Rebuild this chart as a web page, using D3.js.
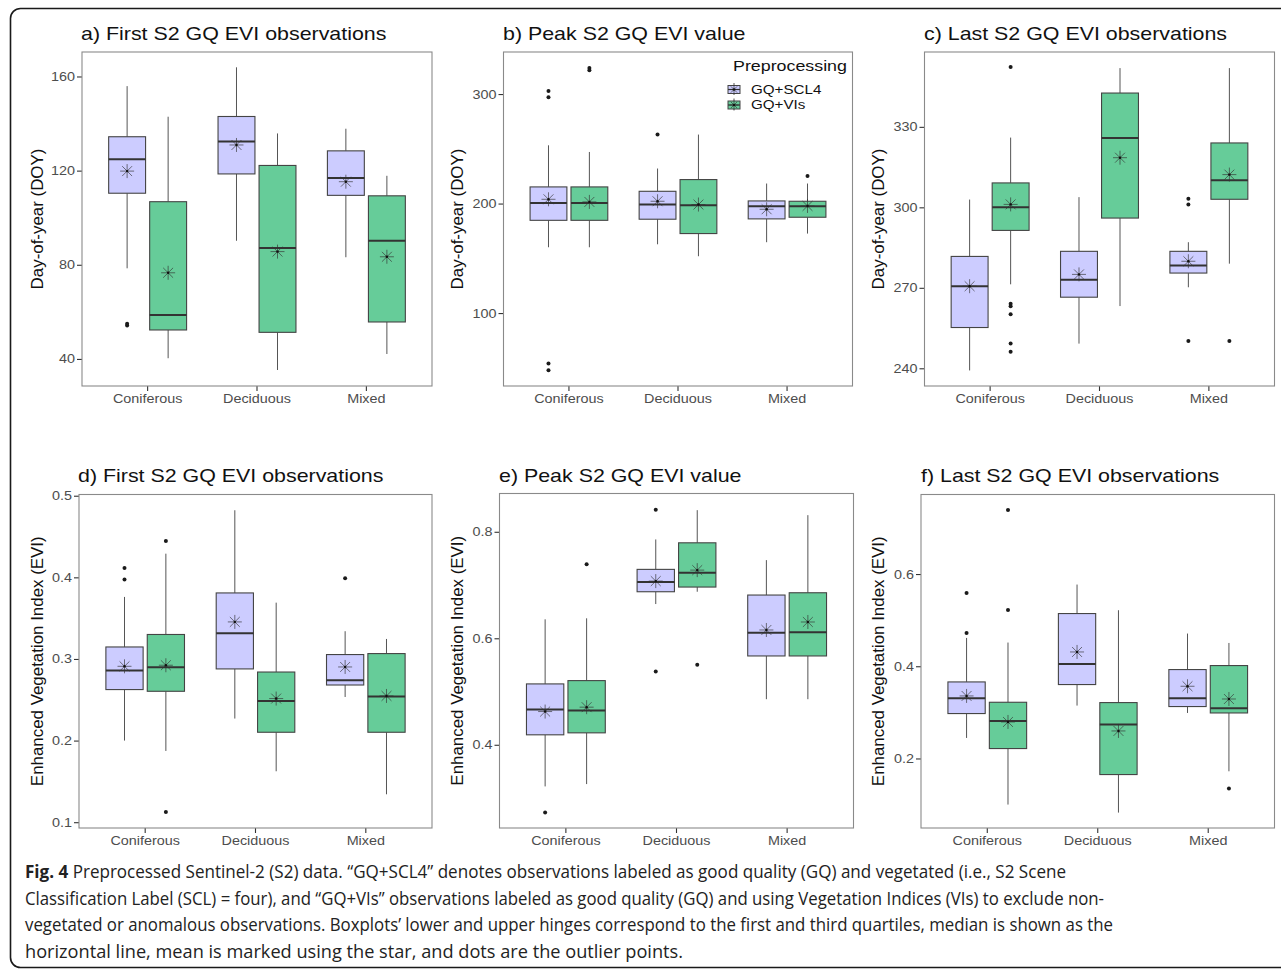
<!DOCTYPE html>
<html><head><meta charset="utf-8">
<script src="https://cdn.jsdelivr.net/npm/d3@7"></script>
<style>body{margin:0;background:#fff}svg{display:block}</style>
</head><body>
<svg id="c" width="1281" height="969"></svg>
<script>
// ---------- DATA ----------
const categories = ["Coniferous", "Deciduous", "Mixed"];
const groups = ["GQ+SCL4", "GQ+VIs"];

const firstDoySCL4 = [
  {lo:78.5, q1:110.4, med:124.8, q3:134.4, hi:155.9, mean:119.8, out:[54.2,55.0]},
  {lo:90.2, q1:118.6, med:132.4, q3:143.0, hi:163.9, mean:130.9, out:[]},
  {lo:83.2, q1:109.5, med:116.9, q3:128.4, hi:137.8, mean:115.3, out:[]}];
const firstDoyVIs = [
  {lo:40.3, q1:52.3, med:58.7, q3:106.8, hi:142.9, mean:76.6, out:[]},
  {lo:35.3, q1:51.3, med:87.1, q3:122.2, hi:135.8, mean:85.6, out:[]},
  {lo:42.1, q1:55.7, med:90.2, q3:109.3, hi:117.8, mean:83.4, out:[]}];

const peakDoySCL4 = [
  {lo:160.1, q1:184.7, med:200.5, q3:215.2, hi:253.2, mean:203.9, out:[302.8,297.0,53.9,47.8]},
  {lo:162.8, q1:185.7, med:199.1, q3:211.2, hi:232.0, mean:202.1, out:[263.0]},
  {lo:164.7, q1:186.0, med:197.5, q3:202.4, hi:218.3, mean:194.8, out:[]}];
const peakDoyVIs = [
  {lo:160.1, q1:184.7, med:200.5, q3:215.2, hi:247.1, mean:201.5, out:[323.8,321.7]},
  {lo:151.9, q1:172.6, med:198.4, q3:221.9, hi:263.0, mean:199.1, out:[]},
  {lo:172.6, q1:187.5, med:197.5, q3:202.1, hi:218.3, mean:197.8, out:[225.2]}];

const lastDoySCL4 = [
  {lo:239.2, q1:255.2, med:270.6, q3:281.7, hi:302.9, mean:270.6, out:[]},
  {lo:249.2, q1:266.5, med:273.0, q3:283.6, hi:303.8, mean:275.0, out:[]},
  {lo:270.2, q1:275.5, med:278.3, q3:283.6, hi:287.0, mean:279.9, out:[303.2,301.1,250.2]}];
const lastDoyVIs = [
  {lo:271.3, q1:291.4, med:300.0, q3:309.1, hi:326.0, mean:301.1, out:[352.3,264.1,263.1,260.1,249.2,246.2]},
  {lo:263.2, q1:296.0, med:325.8, q3:342.6, hi:351.9, mean:318.5, out:[]},
  {lo:279.0, q1:303.0, med:310.1, q3:324.0, hi:351.9, mean:312.2, out:[250.2]}];

const firstEviSCL4 = [
  {lo:0.200, q1:0.2625, med:0.2858, q3:0.3147, hi:0.376, mean:0.291, out:[0.4115,0.3973]},
  {lo:0.227, q1:0.2878, med:0.3315, q3:0.3809, hi:0.4822, mean:0.3454, out:[]},
  {lo:0.2534, q1:0.2681, med:0.2739, q3:0.3054, hi:0.334, mean:0.2902, out:[0.3989]}];
const firstEviVIs = [
  {lo:0.1873, q1:0.2604, med:0.2898, q3:0.330, hi:0.429, mean:0.2923, out:[0.4446,0.1125]},
  {lo:0.1624, q1:0.2102, med:0.2485, q3:0.284, hi:0.369, mean:0.2515, out:[]},
  {lo:0.1342, q1:0.2102, med:0.2539, q3:0.3066, hi:0.3245, mean:0.2547, out:[]}];

const peakEviSCL4 = [
  {lo:0.3218, q1:0.4187, med:0.4661, q3:0.5143, hi:0.6356, mean:0.4624, out:[0.273]},
  {lo:0.6643, q1:0.6874, med:0.7056, q3:0.7294, hi:0.7856, mean:0.7074, out:[0.8412,0.5374]},
  {lo:0.4856, q1:0.5668, med:0.6105, q3:0.6812, hi:0.7468, mean:0.6156, out:[]}];
const peakEviVIs = [
  {lo:0.3262, q1:0.4224, med:0.4643, q3:0.5205, hi:0.6375, mean:0.4706, out:[0.7388]},
  {lo:0.6874, q1:0.6962, med:0.7230, q3:0.7793, hi:0.8406, mean:0.728, out:[0.5505]},
  {lo:0.4856, q1:0.5668, med:0.6112, q3:0.6855, hi:0.8312, mean:0.6306, out:[]}];

const lastEviSCL4 = [
  {lo:0.2445, q1:0.2974, med:0.3306, q3:0.366, hi:0.4614, mean:0.3356, out:[0.559,0.4722]},
  {lo:0.3147, q1:0.3603, med:0.405, q3:0.5143, hi:0.5772, mean:0.431, out:[]},
  {lo:0.2987, q1:0.3126, med:0.3306, q3:0.3928, hi:0.4709, mean:0.3566, out:[]}];
const lastEviVIs = [
  {lo:0.100, q1:0.2215, med:0.2813, q3:0.3219, hi:0.4514, mean:0.2792, out:[0.739,0.5221]},
  {lo:0.0826, q1:0.1651, med:0.2735, q3:0.3212, hi:0.5215, mean:0.2597, out:[]},
  {lo:0.1722, q1:0.2987, med:0.3089, q3:0.4015, hi:0.4505, mean:0.329, out:[0.1347]}];

const ticksDoyFirst = [40, 80, 120, 160];
const ticksDoyPeak = [100, 200, 300];
const ticksDoyLast = [240, 270, 300, 330];
const ticksEviFirst = [0.1, 0.2, 0.3, 0.4, 0.5];
const ticksEviPeak = [0.4, 0.6, 0.8];
const ticksEviLast = [0.2, 0.4, 0.6];

const titles = ["a) First S2 GQ EVI observations", "b) Peak S2 GQ EVI value", "c) Last S2 GQ EVI observations",
                "d) First S2 GQ EVI observations", "e) Peak S2 GQ EVI value", "f) Last S2 GQ EVI observations"];
const yTitles = ["Day-of-year (DOY)", "Enhanced Vegetation Index (EVI)"];
const legendTitle = "Preprocessing";
const captionBold = "Fig. 4";
const captionLines = [
  " Preprocessed Sentinel-2 (S2) data. \u201cGQ+SCL4\u201d denotes observations labeled as good quality (GQ) and vegetated (i.e., S2 Scene",
  "Classification Label (SCL) = four), and \u201cGQ+VIs\u201d observations labeled as good quality (GQ) and using Vegetation Indices (VIs) to exclude non-",
  "vegetated or anomalous observations. Boxplots\u2019 lower and upper hinges correspond to the first and third quartiles, median is shown as the",
  "horizontal line, mean is marked using the star, and dots are the outlier points."];

// ---------- LAYOUT ----------
const panels = [
  {title:titles[0], yt:yTitles[0], s:[firstDoySCL4, firstDoyVIs], dom:[28.5,170.4], ticks:ticksDoyFirst, fmt:d3.format("d"), x0:82, x1:432, y0:52, y1:386, tx:81, ty:40, ytx:37},
  {title:titles[1], yt:yTitles[0], s:[peakDoySCL4, peakDoyVIs], dom:[33.4,338.4], ticks:ticksDoyPeak, fmt:d3.format("d"), x0:503.5, x1:852.5, y0:52, y1:386, tx:503, ty:40, ytx:457, legend:true},
  {title:titles[2], yt:yTitles[0], s:[lastDoySCL4, lastDoyVIs], dom:[233.4,357.9], ticks:ticksDoyLast, fmt:d3.format("d"), x0:924.5, x1:1274.5, y0:52, y1:386, tx:924, ty:40, ytx:878},
  {title:titles[3], yt:yTitles[1], s:[firstEviSCL4, firstEviVIs], dom:[0.0929,0.5015], ticks:ticksEviFirst, fmt:d3.format(".1f"), x0:79, x1:432, y0:494.5, y1:828, tx:78, ty:482, ytx:37},
  {title:titles[4], yt:yTitles[1], s:[peakEviSCL4, peakEviVIs], dom:[0.2437,0.8719], ticks:ticksEviPeak, fmt:d3.format(".1f"), x0:499.5, x1:853.5, y0:493.5, y1:828, tx:499, ty:482, ytx:457},
  {title:titles[5], yt:yTitles[1], s:[lastEviSCL4, lastEviVIs], dom:[0.0492,0.7725], ticks:ticksEviLast, fmt:d3.format(".1f"), x0:921, x1:1274.5, y0:494.5, y1:828, tx:921, ty:482, ytx:878}
];
const fills = ["#ccccff", "#66cc99"];
const SX = 1.15; // horizontal stretch of the original raster
const FF = "'Liberation Sans', Arial, Helvetica, sans-serif";

const svg = d3.select("#c");
svg.append("rect").attr("width",1281).attr("height",969).attr("fill","#fff");
svg.append("rect").attr("x",10.5).attr("y",8.5).attr("width",1300).attr("height",959).attr("rx",10)
  .attr("fill","none").attr("stroke","#1a1a1a").attr("stroke-width",1.6);

function stretch(sel, f) {
  sel.each(function(){ const w = this.getComputedTextLength(); d3.select(this).attr("textLength", w*f).attr("lengthAdjust","spacingAndGlyphs"); });
}
function star(g, cx, cy, r) {
  const st = g.append("g").attr("stroke","#333").attr("stroke-opacity",0.65).attr("stroke-width",1);
  const d = r*Math.SQRT1_2;
  st.append("line").attr("x1",cx-r).attr("x2",cx+r).attr("y1",cy).attr("y2",cy);
  st.append("line").attr("x1",cx).attr("x2",cx).attr("y1",cy-r).attr("y2",cy+r);
  st.append("line").attr("x1",cx-d).attr("x2",cx+d).attr("y1",cy-d).attr("y2",cy+d);
  st.append("line").attr("x1",cx-d).attr("x2",cx+d).attr("y1",cy+d).attr("y2",cy-d);
  g.append("circle").attr("cx",cx).attr("cy",cy).attr("r",1.2).attr("fill","#111");
}

panels.forEach(p => {
  const g = svg.append("g");
  const x = d3.scaleBand().domain(categories).range([p.x0, p.x1]).paddingInner(0).paddingOuter(0.1);
  const step = x.step();
  const xg = d3.scaleBand().domain(groups).range([-0.375*step, 0.375*step]).paddingInner(0.1).paddingOuter(0.05);
  const y = d3.scaleLinear().domain(p.dom).range([p.y1, p.y0]);

  // axes
  const ax = g.append("g").attr("transform",`translate(${p.x0},0)`)
    .call(d3.axisLeft(y).tickValues(p.ticks).tickFormat(p.fmt).tickSize(5).tickPadding(2));
  const bx = g.append("g").attr("transform",`translate(0,${p.y1})`)
    .call(d3.axisBottom(x).tickSize(5).tickPadding(3));
  [ax,bx].forEach(a => {
    a.select(".domain").remove();
    a.selectAll(".tick line").attr("stroke","#333").attr("stroke-width",1.1);
    a.selectAll(".tick text").attr("fill","#4d4d4d").style("font-family",FF).style("font-size","12.5px");
  });
  bx.selectAll(".tick text").attr("dy","0.71em");
  stretch(ax.selectAll(".tick text"), SX);
  stretch(bx.selectAll(".tick text"), SX);

  // boxes
  groups.forEach((gr, gi) => {
    p.s[gi].forEach((d, ci) => {
      const cx = x(categories[ci]) + step/2 + xg(gr) + xg.bandwidth()/2;
      const bw = xg.bandwidth();
      const bg = g.append("g");
      bg.append("line").attr("x1",cx).attr("x2",cx).attr("y1",y(d.q3)).attr("y2",y(d.hi)).attr("stroke","#555").attr("stroke-width",1);
      bg.append("line").attr("x1",cx).attr("x2",cx).attr("y1",y(d.q1)).attr("y2",y(d.lo)).attr("stroke","#555").attr("stroke-width",1);
      bg.append("rect").attr("x",cx-bw/2).attr("y",y(d.q3)).attr("width",bw).attr("height",y(d.q1)-y(d.q3))
        .attr("fill",fills[gi]).attr("stroke","#444").attr("stroke-width",1.1);
      bg.append("line").attr("x1",cx-bw/2).attr("x2",cx+bw/2).attr("y1",y(d.med)).attr("y2",y(d.med)).attr("stroke","#333").attr("stroke-width",2);
      d.out.forEach(o => bg.append("circle").attr("cx",cx).attr("cy",y(o)).attr("r",2).attr("fill","#1a1a1a"));
      star(bg, cx, y(d.mean), 7);
    });
  });

  // panel border
  g.append("rect").attr("x",p.x0).attr("y",p.y0).attr("width",p.x1-p.x0).attr("height",p.y1-p.y0)
    .attr("fill","none").attr("stroke","#8a8a8a").attr("stroke-width",1.1);

  // titles
  const t = g.append("text").attr("x",p.tx).attr("y",p.ty).text(p.title)
    .style("font-family",FF).style("font-size","18.6px").attr("fill","#111");
  stretch(t, SX);
  g.append("text").attr("transform",`translate(${p.ytx},${(p.y0+p.y1)/2}) rotate(-90)`)
    .attr("text-anchor","middle").attr("dominant-baseline","central").text(p.yt)
    .style("font-family",FF).style("font-size","16.9px").attr("fill","#111");

  if (p.legend) {
    const lg = g.append("g");
    const lt = lg.append("text").attr("x",733).attr("y",71).text(legendTitle)
      .style("font-family",FF).style("font-size","15.5px").attr("fill","#111");
    stretch(lt, SX);
    groups.forEach((gr, gi) => {
      const ky = 84.5 + gi*15.5, kx = 728;
      lg.append("line").attr("x1",kx+6).attr("x2",kx+6).attr("y1",ky-1.5).attr("y2",ky+10.5).attr("stroke","#555");
      lg.append("rect").attr("x",kx).attr("y",ky+1).attr("width",12).attr("height",8)
        .attr("fill",fills[gi]).attr("stroke","#444").attr("stroke-width",1);
      lg.append("line").attr("x1",kx).attr("x2",kx+12).attr("y1",ky+5).attr("y2",ky+5).attr("stroke","#333").attr("stroke-width",1.2);
      star(lg, kx+6, ky+5, 4.5);
      const lt2 = lg.append("text").attr("x",751).attr("y",ky+9).text(gr)
        .style("font-family",FF).style("font-size","13.2px").attr("fill","#111");
      stretch(lt2, SX);
    });
  }
});

// caption (line widths fitted to the reference layout)
const capY = [878, 904.5, 931, 957.5];
const capW = [1041, 1079, 1088, 658];
captionLines.forEach((line, i) => {
  const t = svg.append("text").attr("x",25).attr("y",capY[i])
    .style("font-family","'Open Sans', 'Noto Sans', sans-serif").style("font-size","18.6px").attr("fill","#222");
  if (i === 0) t.append("tspan").attr("font-weight","bold").text(captionBold);
  t.append("tspan").text(line);
  t.attr("textLength", capW[i]).attr("lengthAdjust","spacingAndGlyphs");
});
</script>
</body></html>
